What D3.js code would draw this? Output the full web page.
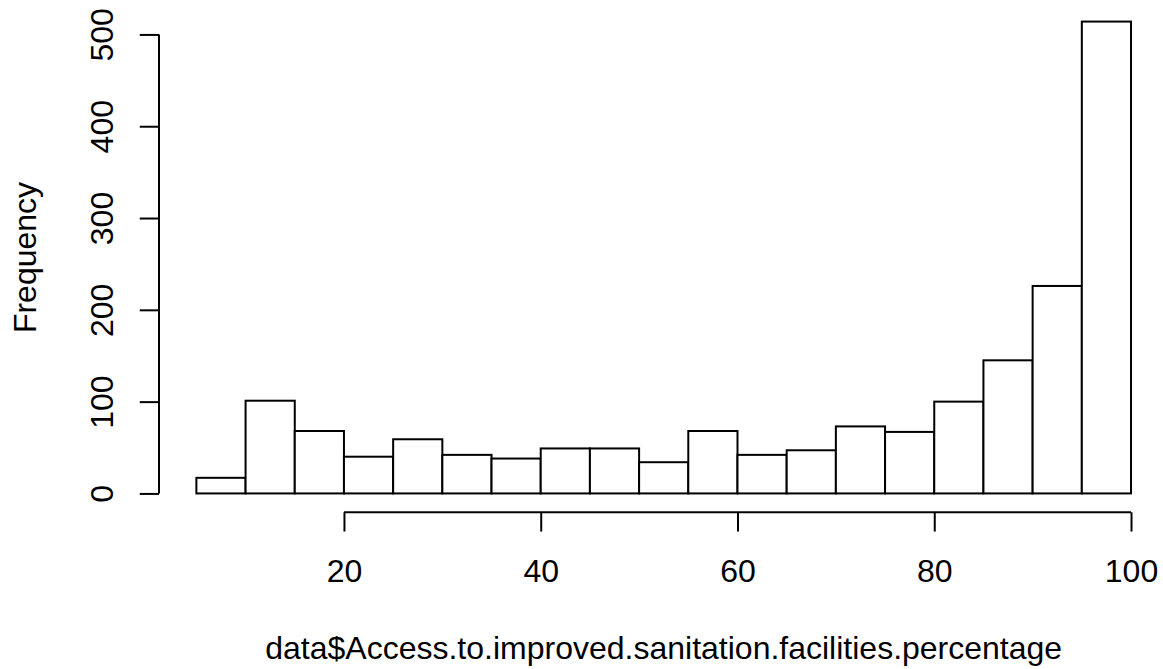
<!DOCTYPE html>
<html>
<head>
<meta charset="utf-8">
<script src="https://cdn.jsdelivr.net/npm/d3@7"></script>
<style>
  html, body { margin: 0; padding: 0; background: #fff; }
  svg { display: block; }
  text { font-family: "Liberation Sans", Arial, Helvetica, sans-serif; fill: #000; }
</style>
</head>
<body>
<svg id="chart" width="1163" height="669"></svg>
<script>
// ---- data ----
const binStarts = [5, 10, 15, 20, 25, 30, 35, 40, 45, 50, 55, 60, 65, 70, 75, 80, 85, 90, 95];
const binWidth = 5;
const counts = [17, 101, 68, 40, 59, 42, 38, 49, 49, 34, 68, 42, 47, 73, 67, 100, 145, 226, 514];
const xTicks = [20, 40, 60, 80, 100];
const yTicks = [0, 100, 200, 300, 400, 500];
const xLabel = "data$Access.to.improved.sanitation.facilities.percentage";
const yLabel = "Frequency";

// ---- layout ----
const W = 1163, H = 669;
const plot = { left: 159, right: 1168.4, top: 2.7, bottom: 512.3 };
const lineH = 38.5;          // one margin line in px
const fontSize = 32;

const svg = d3.select("#chart");
svg.append("rect").attr("width", W).attr("height", H).attr("fill", "#fff");

const xMin = binStarts[0], xMax = binStarts[binStarts.length - 1] + binWidth;
const xPad = (xMax - xMin) * 0.04;
const x = d3.scaleLinear().domain([xMin - xPad, xMax + xPad]).range([plot.left, plot.right]);
const yMax = d3.max(counts);
const yPad = yMax * 0.04;
const y = d3.scaleLinear().domain([-yPad, yMax + yPad]).range([plot.bottom, plot.top]);

// ---- bars ----
svg.append("g")
  .selectAll("rect")
  .data(counts.map((c, i) => ({ lo: binStarts[i], hi: binStarts[i] + binWidth, c })))
  .join("rect")
  .attr("x", d => x(d.lo))
  .attr("width", d => x(d.hi) - x(d.lo))
  .attr("y", d => y(d.c))
  .attr("height", d => y(0) - y(d.c))
  .attr("fill", "#fff")
  .attr("stroke", "#000")
  .attr("stroke-width", 2);

// ---- x axis ----
const tickLen = 0.5 * lineH;
const gx = svg.append("g").attr("transform", `translate(0,${plot.bottom})`)
  .call(d3.axisBottom(x).tickValues(xTicks).tickSize(tickLen).tickFormat(d3.format("d")));
gx.select(".domain").remove();
gx.append("line")
  .attr("x1", x(xTicks[0])).attr("x2", x(xTicks[xTicks.length - 1]))
  .attr("stroke", "#000").attr("stroke-width", 2);
gx.selectAll(".tick line").attr("stroke", "#000").attr("stroke-width", 2);
gx.selectAll(".tick text")
  .attr("y", 1.8 * lineH).attr("dy", null)
  .attr("font-size", fontSize)
  .attr("font-family", '"Liberation Sans", Arial, Helvetica, sans-serif')
  .attr("fill", "#000");

// ---- y axis ----
const gy = svg.append("g").attr("transform", `translate(${plot.left},0)`)
  .call(d3.axisLeft(y).tickValues(yTicks).tickSize(tickLen).tickFormat(d3.format("d")));
gy.select(".domain").remove();
gy.append("line")
  .attr("y1", y(yTicks[0])).attr("y2", y(yTicks[yTicks.length - 1]))
  .attr("stroke", "#000").attr("stroke-width", 2);
gy.selectAll(".tick line").attr("stroke", "#000").attr("stroke-width", 2);
gy.selectAll(".tick text")
  .attr("x", 0).attr("y", 0).attr("dy", null)
  .attr("text-anchor", "middle")
  .attr("transform", `translate(${-1.2 * lineH},0) rotate(-90)`)
  .attr("font-size", fontSize)
  .attr("font-family", '"Liberation Sans", Arial, Helvetica, sans-serif')
  .attr("fill", "#000");

// ---- axis titles ----
svg.append("text")
  .attr("x", (plot.left + plot.right) / 2)
  .attr("y", plot.bottom + 3.8 * lineH)
  .attr("text-anchor", "middle")
  .attr("font-size", fontSize)
  .text(xLabel);

svg.append("text")
  .attr("transform", `translate(${plot.left - 3.2 * lineH},${(plot.top + plot.bottom) / 2}) rotate(-90)`)
  .attr("text-anchor", "middle")
  .attr("font-size", fontSize)
  .text(yLabel);
</script>
</body>
</html>
